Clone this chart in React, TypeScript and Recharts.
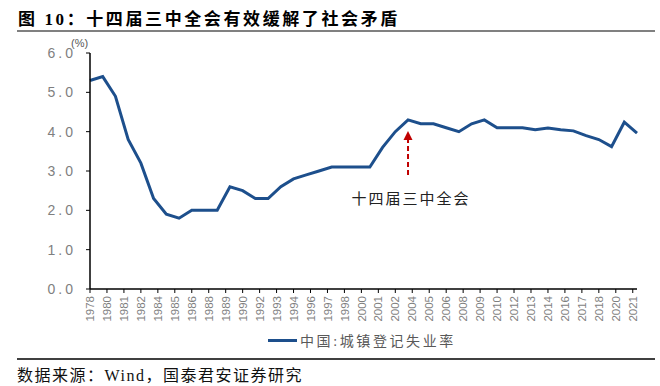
import React from 'react';
import { LineChart, Line, XAxis, YAxis, ReferenceLine, ReferenceDot } from 'recharts';

// 中国城镇登记失业率 (%), 1978-2021
const years = [
  1978, 1979, 1980, 1981, 1982, 1983, 1984, 1985, 1986, 1987, 1988,
  1989, 1990, 1991, 1992, 1993, 1994, 1995, 1996, 1997, 1998, 1999,
  2000, 2001, 2002, 2003, 2004, 2005, 2006, 2007, 2008, 2009, 2010,
  2011, 2012, 2013, 2014, 2015, 2016, 2017, 2018, 2019, 2020, 2021,
];
const unemployment = [
  5.3, 5.4, 4.9, 3.8, 3.2, 2.3, 1.9, 1.8, 2.0, 2.0, 2.0,
  2.6, 2.5, 2.3, 2.3, 2.6, 2.8, 2.9, 3.0, 3.1, 3.1, 3.1,
  3.1, 3.6, 4.0, 4.3, 4.2, 4.2, 4.1, 4.0, 4.2, 4.3, 4.1,
  4.1, 4.1, 4.05, 4.09, 4.05, 4.02, 3.9, 3.8, 3.62, 4.24, 3.96,
];

// date-axis ticks every 16 months, as in the source chart
const tickDates = [
  '1978-12', '1980-04', '1981-08', '1982-12', '1984-04', '1985-08', '1986-12',
  '1988-04', '1989-08', '1990-12', '1992-04', '1993-08', '1994-12', '1996-04',
  '1997-08', '1998-12', '2000-04', '2001-08', '2002-12', '2004-04', '2005-08',
  '2006-12', '2008-04', '2009-08', '2010-12', '2012-04', '2013-08', '2014-12',
  '2016-04', '2017-08', '2018-12', '2020-04', '2021-08',
];
const yTicks = [0, 1, 2, 3, 4, 5, 6];

const seriesName = '中国:城镇登记失业率';
const eventYear = 2003;
const eventLabel = '十四届三中全会';

const LINE_COLOR = '#1d4f8c';
const ARROW_COLOR = '#c00000';
const CJK = "'Liberation Serif', 'Noto Sans CJK SC', serif";

const data = years.map((y, i) => ({ year: y, rate: unemployment[i] }));

const toPos = (d: string) => {
  const [y, m] = d.split('-').map(Number);
  return y + (m - 12) / 12;
};
const xTicks = tickDates.map(toPos);
const tickLabel: Record<string, string> = {};
tickDates.forEach(d => {
  tickLabel[toPos(d).toFixed(3)] = d.slice(0, 4);
});

const XTick = (props: any) => {
  const { x, y, payload } = props;
  const ty = y + 1;
  return (
    <text
      x={x}
      y={ty}
      dy="0.36em"
      textAnchor="end"
      transform={`rotate(-90, ${x}, ${ty})`}
      fill="#7f7f7f"
      fontSize={11.5}
      fontFamily="'Liberation Sans', Arial, sans-serif"
    >
      {tickLabel[Number(payload.value).toFixed(3)]}
    </text>
  );
};

const YTick = (props: any) => {
  const { x, y, payload } = props;
  return (
    <text
      x={x}
      y={y}
      dy="0.36em"
      textAnchor="end"
      fill="#7f7f7f"
      fontSize={14}
      letterSpacing={3}
      fontFamily="'Liberation Sans', Arial, sans-serif"
    >
      {Number(payload.value).toFixed(1)}
    </text>
  );
};

const ArrowHead = (props: any) => {
  const { cx, cy } = props;
  return (
    <polygon
      points={`${cx},${cy} ${cx - 4.5},${cy + 9} ${cx + 4.5},${cy + 9}`}
      fill={ARROW_COLOR}
    />
  );
};

const EventText = (props: any) => {
  const { cx, cy } = props;
  return (
    <text
      x={cx + 3}
      y={cy}
      dy="0.36em"
      textAnchor="middle"
      fill="#222"
      fontSize={15}
      letterSpacing={2}
      fontFamily={CJK}
    >
      {eventLabel}
    </text>
  );
};

export default function App() {
  return (
    <div
      style={{
        position: 'absolute',
        left: 0,
        top: 0,
        width: 660,
        height: 386,
        background: '#fff',
        overflow: 'hidden',
      }}
    >
      <div
        style={{
          position: 'absolute',
          left: 18,
          top: 5,
          fontSize: 17,
          fontWeight: 'bold',
          letterSpacing: 2.6,
          fontFamily: CJK,
          color: '#000',
          whiteSpace: 'nowrap',
        }}
      >
        图 10：十四届三中全会有效缓解了社会矛盾
      </div>
      <div style={{ position: 'absolute', left: 17, top: 30, width: 638, height: 2, background: '#808080' }} />

      <LineChart
        width={660}
        height={386}
        data={data}
        margin={{ top: 53, right: 23, bottom: 57, left: 0 }}
        style={{ position: 'absolute', left: 0, top: 0 }}
      >
        <XAxis
          dataKey="year"
          type="number"
          domain={[1978, 2021]}
          ticks={xTicks}
          interval={0}
          height={40}
          tickSize={4}
          tick={<XTick />}
          axisLine={{ stroke: '#000', strokeWidth: 1.5 }}
          tickLine={{ stroke: '#000', strokeWidth: 1 }}
        />
        <YAxis
          type="number"
          domain={[0, 6]}
          ticks={yTicks}
          width={90}
          tickSize={4}
          tickMargin={10}
          tick={<YTick />}
          axisLine={{ stroke: '#000', strokeWidth: 1.5 }}
          tickLine={{ stroke: '#000', strokeWidth: 1 }}
        />
        <Line
          type="linear"
          dataKey="rate"
          name={seriesName}
          stroke={LINE_COLOR}
          strokeWidth={3}
          dot={false}
          isAnimationActive={false}
        />
        <ReferenceLine
          segment={[
            { x: eventYear, y: 2.9 },
            { x: eventYear, y: 3.82 },
          ]}
          stroke={ARROW_COLOR}
          strokeWidth={2}
          strokeDasharray="5 3"
        />
        <ReferenceDot x={eventYear} y={4.02} shape={<ArrowHead />} />
        <ReferenceDot x={eventYear} y={2.29} shape={<EventText />} />
      </LineChart>

      <div
        style={{
          position: 'absolute',
          left: 71,
          top: 37,
          fontSize: 11,
          color: '#595959',
          fontFamily: "'Liberation Sans', Arial, sans-serif",
        }}
      >
        (%)
      </div>

      <div style={{ position: 'absolute', left: 268, top: 339, width: 29, height: 3, background: LINE_COLOR }} />
      <div
        style={{
          position: 'absolute',
          left: 300,
          top: 330,
          fontSize: 14,
          letterSpacing: 2.6,
          color: '#595959',
          fontFamily: CJK,
          whiteSpace: 'nowrap',
        }}
      >
        {seriesName}
      </div>

      <div style={{ position: 'absolute', left: 17, top: 358, width: 638, height: 1.5, background: '#404040' }} />
      <div
        style={{
          position: 'absolute',
          left: 17,
          top: 362,
          fontSize: 16,
          letterSpacing: 1.5,
          color: '#111',
          fontFamily: CJK,
          whiteSpace: 'nowrap',
        }}
      >
        数据来源：Wind，国泰君安证券研究
      </div>
    </div>
  );
}
